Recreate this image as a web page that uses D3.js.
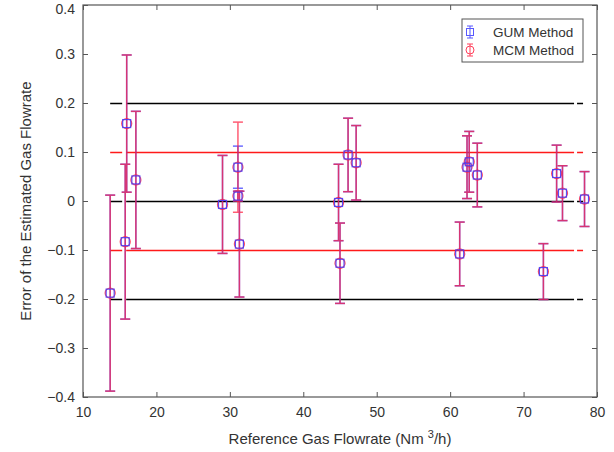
<!DOCTYPE html>
<html>
<head>
<meta charset="utf-8">
<script src="https://cdn.jsdelivr.net/npm/d3@7/dist/d3.min.js"></script>
<style>
  body { margin: 0; background: #fff; }
  svg { display: block; font-family: "Liberation Sans", Arial, sans-serif; }
</style>
</head>
<body>
<svg id="chart" width="614" height="452"></svg>
<script>
// ---- data ----
const flowrate = [13.7, 15.75, 15.95, 17.2, 29.0, 31.1, 31.1, 31.3, 44.8, 45.0, 46.1, 47.2, 61.3, 62.3, 62.6, 63.7, 72.7, 74.5, 75.3, 78.3];
const errorVal = [-0.188, -0.083, 0.158, 0.043, -0.007, 0.069, 0.010, -0.088, -0.003, -0.127, 0.094, 0.078, -0.108, 0.069, 0.080, 0.053, -0.144, 0.056, 0.016, 0.004];
const gumU     = [0.200, 0.158, 0.140, 0.140, 0.100, 0.043, 0.010, 0.108, 0.078, 0.082, 0.075, 0.076, 0.065, 0.064, 0.062, 0.065, 0.057, 0.058, 0.056, 0.056];
const mcmU     = [0.200, 0.158, 0.140, 0.140, 0.100, 0.092, 0.010, 0.108, 0.078, 0.082, 0.075, 0.076, 0.065, 0.064, 0.062, 0.065, 0.057, 0.058, 0.056, 0.056];
const xTicks = [10, 20, 30, 40, 50, 60, 70, 80];
const yTicks = [-0.4, -0.3, -0.2, -0.1, 0, 0.1, 0.2, 0.3, 0.4];
const blackLines = [0.2, 0, -0.2];
const redLines = [0.1, -0.1];
const refLineRange = [13.7, 78.1];
const seriesNames = ["GUM Method", "MCM Method"];

// ---- layout ----
const svg = d3.select("#chart");
const L = 83, R = 597, T = 5, B = 397;
const x = d3.scaleLinear().domain([10, 80]).range([L, R]);
const y = d3.scaleLinear().domain([-0.4, 0.4]).range([B, T]);
const textColor = "#333";
const blue = "#3b3bff", red = "#ff2040";

const g = svg.append("g");

// reference lines
function refLine(v, color, w) {
  const x1 = x(refLineRange[0]), x2 = x(refLineRange[1]);
  const len = x2 - x1;
  const yy = Math.round(y(v)) + 0.5;
  g.append("line")
    .attr("x1", x1).attr("x2", x2).attr("y1", yy).attr("y2", yy)
    .attr("stroke", color).attr("stroke-width", w)
    .attr("stroke-dasharray", `12,4,${len - 12 - 4 - 3 - 6},3,6`);
}
blackLines.forEach(v => refLine(v, "#000", 1.3));
redLines.forEach(v => refLine(v, "#ff1a1a", 1.3));

const idx = d3.range(flowrate.length);

function bars(U, color, opacity) {
  const gg = g.append("g").attr("stroke", color).attr("stroke-width", 1.5).attr("opacity", opacity).attr("fill", "none");
  idx.forEach(i => {
    const cx = x(flowrate[i]);
    const y1 = y(errorVal[i] + U[i]), y2 = y(errorVal[i] - U[i]);
    gg.append("line").attr("x1", cx).attr("x2", cx).attr("y1", y1).attr("y2", y2);
    gg.append("line").attr("x1", cx - 5).attr("x2", cx + 5).attr("y1", y1).attr("y2", y1);
    gg.append("line").attr("x1", cx - 5).attr("x2", cx + 5).attr("y1", y2).attr("y2", y2);
  });
}
bars(gumU, blue, 0.75);
bars(mcmU, red, 0.72);

// markers
g.append("g").selectAll("circle").data(idx).join("circle")
  .attr("cx", i => x(flowrate[i])).attr("cy", i => y(errorVal[i])).attr("r", 5)
  .attr("fill", "none").attr("stroke", red).attr("stroke-width", 1.3).attr("opacity", 0.8);
g.append("g").selectAll("rect").data(idx).join("rect")
  .attr("x", i => x(flowrate[i]) - 4).attr("y", i => y(errorVal[i]) - 4)
  .attr("width", 8).attr("height", 8)
  .attr("fill", "none").attr("stroke", blue).attr("stroke-width", 1.2).attr("opacity", 0.85);

// axes box
svg.append("rect").attr("x", L).attr("y", T).attr("width", R - L).attr("height", B - T)
  .attr("fill", "none").attr("stroke", "#555").attr("stroke-width", 1.2);

const fmtY = d => d === 0 ? "0" : (d < 0 ? "\u2212" + d3.format(".1f")(-d) : d3.format(".1f")(d));

const axB = svg.append("g").attr("transform", `translate(0,${B})`)
  .call(d3.axisBottom(x).tickValues(xTicks).tickSizeInner(-5).tickSizeOuter(0).tickPadding(10).tickFormat(d3.format("d")));
const axT = svg.append("g").attr("transform", `translate(0,${T})`)
  .call(d3.axisTop(x).tickValues(xTicks).tickSizeInner(-5).tickSizeOuter(0).tickFormat(""));
const axL = svg.append("g").attr("transform", `translate(${L},0)`)
  .call(d3.axisLeft(y).tickValues(yTicks).tickSizeInner(-5).tickSizeOuter(0).tickPadding(8).tickFormat(fmtY));
const axR = svg.append("g").attr("transform", `translate(${R},0)`)
  .call(d3.axisRight(y).tickValues(yTicks).tickSizeInner(-5).tickSizeOuter(0).tickFormat(""));
[axB, axT, axL, axR].forEach(a => {
  a.select(".domain").remove();
  a.selectAll(".tick line").attr("stroke", "#555");
  a.selectAll(".tick text").attr("fill", textColor).style("font-size", "14px").style("font-family", '"Liberation Sans", Arial, sans-serif');
});
// keep the top label inside the picture
axL.selectAll(".tick").filter(d => d === 0.4).select("text").attr("dy", "0.6em");

// axis labels
const xl = svg.append("text").attr("x", (L + R) / 2).attr("y", 444).attr("text-anchor", "middle")
  .attr("fill", textColor).style("font-size", "15px");
xl.append("tspan").text("Reference Gas Flowrate (Nm ");
xl.append("tspan").text("3").attr("dy", -6).style("font-size", "11px");
xl.append("tspan").text("/h)").attr("dy", 6);

svg.append("text").attr("transform", `translate(31,${(T + B) / 2}) rotate(-90)`)
  .attr("text-anchor", "middle").attr("fill", textColor).style("font-size", "15px")
  .text("Error of the Estimated Gas Flowrate");

// legend
const lg = svg.append("g");
lg.append("rect").attr("x", 462).attr("y", 19).attr("width", 121).attr("height", 43)
  .attr("fill", "#fff").attr("stroke", "#555").attr("stroke-width", 1);
const legendItems = [
  { name: seriesNames[0], color: blue, shape: "square", yy: 32 },
  { name: seriesNames[1], color: red, shape: "circle", yy: 50 }
];
legendItems.forEach(it => {
  const cx = 470;
  const s = lg.append("g").attr("stroke", it.color).attr("fill", "none").attr("stroke-width", 1).attr("opacity", 0.85);
  s.append("line").attr("x1", cx).attr("x2", cx).attr("y1", it.yy - 6).attr("y2", it.yy + 6);
  s.append("line").attr("x1", cx - 3).attr("x2", cx + 3).attr("y1", it.yy - 6).attr("y2", it.yy - 6);
  s.append("line").attr("x1", cx - 3).attr("x2", cx + 3).attr("y1", it.yy + 6).attr("y2", it.yy + 6);
  if (it.shape === "square") s.append("rect").attr("x", cx - 3.5).attr("y", it.yy - 3.5).attr("width", 7).attr("height", 7);
  else s.append("circle").attr("cx", cx).attr("cy", it.yy).attr("r", 4);
  lg.append("text").attr("x", 493).attr("y", it.yy + 5).attr("fill", textColor)
    .style("font-size", "13.5px").text(it.name);
});
</script>
</body>
</html>
